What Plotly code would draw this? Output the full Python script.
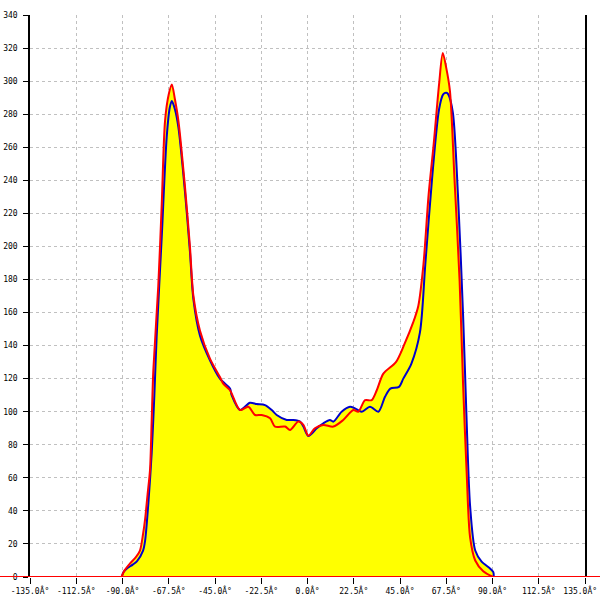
import plotly.graph_objects as go

# Red series (angle in degrees, value)
red_x = [-90.5, -89, -86.5, -83.5, -81.5, -80, -79, -77.8, -76.6, -75.8, -75, -72.6, -70.9, -69.3,
         -67.5, -66, -64.5, -62.8, -59.6, -57.2, -55.5, -52.3, -47.4, -42.6, -41, -37.7, -36.9,
         -32.8, -28.8, -25.5, -22.3, -18.2, -15.8, -10.9, -8.5, -4.5, -2, 0.4, 3.6, 7.7, 12.6,
         17.4, 22.3, 24.7, 28, 31.2, 33.7, 36.9, 43, 47.2, 51.4, 53.9, 56.4, 58.9, 61.4, 64,
         65.8, 67.5, 69.3, 71.5, 74, 75.7, 77.4, 79.1, 81.6, 85.5, 90.4]
red_y = [0, 4, 8, 12, 16, 26, 35, 50, 65, 95, 125, 176, 226, 276,
         292, 298, 289, 276, 236, 200, 170, 149, 132, 121, 117, 113, 111,
         101, 103, 98, 98, 96, 91, 91, 89, 94, 92, 85.5, 90, 92, 91,
         95, 101, 100, 107, 107, 113, 123, 130, 141, 154, 164, 189, 231, 262, 298,
         317, 308, 294, 241, 179, 116, 64, 24, 10, 3.5, 0]

# Blue series
blue_x = [-90.4, -89.5, -88, -85, -83, -80, -79, -77.4, -75.8, -74.5, -73.4, -70.9, -68.5, -67,
          -66, -64.5, -62.8, -59.6, -57.2, -55.5, -52.3, -47.4, -42.6, -37.7, -36.9, -32.8,
          -28, -24.7, -20.7, -17.4, -15, -10.1, -6.9, -3.6, -2, 0.4, 4.5, 7.7, 10.9, 12.6,
          16.6, 20.7, 23.1, 26.4, 30.4, 34.5, 37.7, 40.3, 44.5, 46.6, 50.5, 54.7, 57.3, 60.6,
          64, 66, 67.5, 68.5, 70.7, 73.2, 75.7, 77.4, 79.1, 81.6, 84.7, 88.8, 90.4, 90.6]
blue_y = [0, 3, 5, 7.5, 9.5, 16, 22, 45, 75, 110, 145, 206, 266, 284,
          288, 283, 272, 233, 197, 168, 146, 131, 120, 114, 110, 101,
          105.4, 104.6, 104, 101, 98, 95, 95, 94, 91, 85.3, 90, 93, 95, 94,
          100, 103, 102, 100, 103, 100, 109, 114, 115, 120, 129, 148, 189, 241,
          283, 292, 293, 292, 281, 231, 158, 95, 43, 16, 9.3, 5.2, 3, 0]

x_ticks = [-135, -112.5, -90, -67.5, -45, -22.5, 0, 22.5, 45, 67.5, 90, 112.5, 135]
x_tick_labels = [f"{v:.1f}Â°" for v in x_ticks]
y_ticks = list(range(0, 341, 20))

# keep the last label inside the page (shift it slightly left)
x_tick_display = x_tick_labels[:-1] + [x_tick_labels[-1] + "\u00a0\u00a0"]

fig = go.Figure()
for xs, ys in [(red_x, red_y), (blue_x, blue_y)]:
    fig.add_trace(go.Scatter(x=xs, y=ys, mode="lines", fill="tozeroy",
                             fillcolor="#FFFF00", line=dict(width=0, shape="spline", smoothing=0.8),
                             hoverinfo="skip", showlegend=False))
fig.add_trace(go.Scatter(x=blue_x, y=blue_y, mode="lines",
                         line=dict(color="#0000CC", width=2, shape="spline", smoothing=0.8),
                         showlegend=False))
fig.add_trace(go.Scatter(x=red_x, y=red_y, mode="lines",
                         line=dict(color="#FF0000", width=2, shape="spline", smoothing=0.8),
                         showlegend=False))

font = dict(family="DejaVu Sans Mono", size=8, color="#000000")
fig.add_shape(type="line", xref="paper", yref="y", x0=-30 / 555, x1=1 + 15 / 555, y0=0, y1=0,
              line=dict(color="#FF0000", width=2), layer="above")

fig.update_layout(
    width=600, height=600,
    margin=dict(l=30, r=15, t=15, b=23, pad=0, autoexpand=False),
    paper_bgcolor="white", plot_bgcolor="white",
    xaxis=dict(range=[-135, 135], tickmode="array", tickvals=x_ticks, ticktext=x_tick_display,
               ticks="outside", ticklen=6, tickcolor="black", tickwidth=1,
               showgrid=True, gridcolor="#C0C0C0", griddash="3px,3px", gridwidth=1,
               zeroline=False, showline=False, tickfont=font, fixedrange=True, automargin=False,
               ticklabeloverflow="allow"),
    yaxis=dict(range=[0, 340], tickmode="array", tickvals=y_ticks,
               ticks="outside", ticklen=5, tickcolor="black", tickwidth=1,
               showgrid=True, gridcolor="#C0C0C0", griddash="3px,3px", gridwidth=1,
               zeroline=False, showline=True, linecolor="black", linewidth=1.5, mirror=True,
               tickfont=font, fixedrange=True, automargin=False, ticklabelstandoff=4),
)

fig.write_html(
    "out.html",
    config={"displayModeBar": False},
    post_script="document.body.style.margin='0';document.documentElement.style.overflow='hidden';",
)
